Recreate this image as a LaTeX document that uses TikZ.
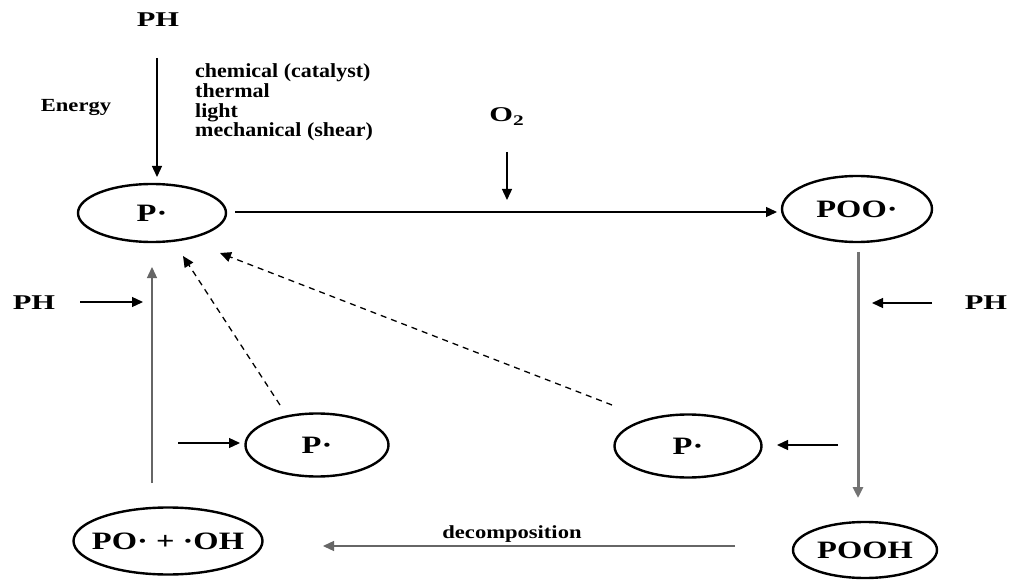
\documentclass[tikz,border=0pt]{standalone}
\usepackage{fontspec}
\setmainfont{Liberation Serif}
\usetikzlibrary{arrows.meta,shapes.geometric}
\newcommand{\sEl}[1]{\makebox[0pt]{\scalebox{1.3}[1]{#1}}}
\newcommand{\sLab}[1]{\scalebox{1.45}[1]{#1}}
\newcommand{\sSm}[1]{\scalebox{1.1}[1]{#1}}
\newcommand{\sMid}[1]{\scalebox{1.22}[1]{#1}}
\begin{document}
\begin{tikzpicture}[x=1pt,y=-1pt,
  ell/.style={draw,ellipse,line width=2.4pt,inner sep=0pt,font=\fontsize{25}{28}\selectfont\bfseries},
  lab/.style={inner sep=0pt,anchor=base,font=\fontsize{21}{24}\selectfont\bfseries},
  smalltxt/.style={inner sep=0pt,anchor=base west,font=\fontsize{20}{22}\selectfont\bfseries},
  midtxt/.style={inner sep=0pt,anchor=base,font=\fontsize{18.5}{22}\selectfont\bfseries},
  arr/.style={-{Triangle[length=11pt,width=10pt]},line width=1.3pt},
  garr/.style={arr,draw=black!60},
  darr/.style={arr,dash pattern=on 6pt off 5pt},
]
\useasboundingbox (0,0) rectangle (1015,580);
\fill[white] (0,0) rectangle (1015,580);

% ellipses
\node[ell,minimum width=148pt,minimum height=58pt] (p1) at (152,213) {\sEl{P·}};
\node[ell,minimum width=150pt,minimum height=66pt] (poo) at (857,209) {\sEl{POO·}};
\node[ell,minimum width=143pt,minimum height=63pt] (p2) at (317,445) {\sEl{P·}};
\node[ell,minimum width=147pt,minimum height=63pt] (p3) at (688,446) {\sEl{P·}};
\node[ell,minimum width=144pt,minimum height=56pt] (pooh) at (865,550) {\sEl{POOH}};
\node[ell,minimum width=189pt,minimum height=67pt] (poh) at (168,541) {\sEl{PO· + ·OH}};

% labels
\node[lab] (phtop) at (158,27) {\sLab{PH}};
\node[lab] (phl) at (34,309) {\sLab{PH}};
\node[lab] (phr) at (986,309) {\sLab{PH}};
\node[lab] (o2) at (507,122) {\sLab{O\textsubscript{2}}};
\node[midtxt] (energy) at (76,112) {\sMid{Energy}};
\node[midtxt] (decomp) at (512,538) {\sMid{decomposition}};
\node[smalltxt] (l1) at (195,78) {\sSm{chemical (catalyst)}};
\node[smalltxt] (l2) at (195,97.7) {\sSm{thermal}};
\node[smalltxt] (l3) at (195,117.4) {\sSm{light}};
\node[smalltxt] (l4) at (195,137) {\sSm{mechanical (shear)}};

% coordinates
\coordinate (eS) at (157,58);
\coordinate (eE) at (157,177);
\coordinate (hS) at (235,212);
\coordinate (hE) at (777,212);
\coordinate (oS) at (507,152);
\coordinate (oE) at (507,200);
\coordinate (vS) at (858,252);
\coordinate (vE) at (858,498);
\coordinate (rS) at (932,303);
\coordinate (rE) at (872,303);
\coordinate (lS) at (80,302);
\coordinate (lE) at (143,302);
\coordinate (uS) at (152,483);
\coordinate (uE) at (152,267);
\coordinate (bS) at (178,443);
\coordinate (bE) at (240,443);
\coordinate (cS) at (838,445);
\coordinate (cE) at (777,445);
\coordinate (dS) at (735,546);
\coordinate (dE) at (323,546);
\coordinate (sS) at (280,405);
\coordinate (sE) at (183,256);
\coordinate (tS) at (612,405);
\coordinate (tE) at (220,253);

% arrows
\draw[arr] (eS) -- (eE);
\draw[arr] (hS) -- (hE);
\draw[arr] (oS) -- (oE);
\draw[arr,draw=black!55,line width=3pt] (vS) -- (vE);
\draw[arr] (rS) -- (rE);
\draw[arr] (lS) -- (lE);
\draw[garr] (uS) -- (uE);
\draw[arr] (bS) -- (bE);
\draw[arr] (cS) -- (cE);
\draw[garr] (dS) -- (dE);
\draw[darr] (sS) -- (sE);
\draw[darr] (tS) -- (tE);
\end{tikzpicture}
\end{document}
